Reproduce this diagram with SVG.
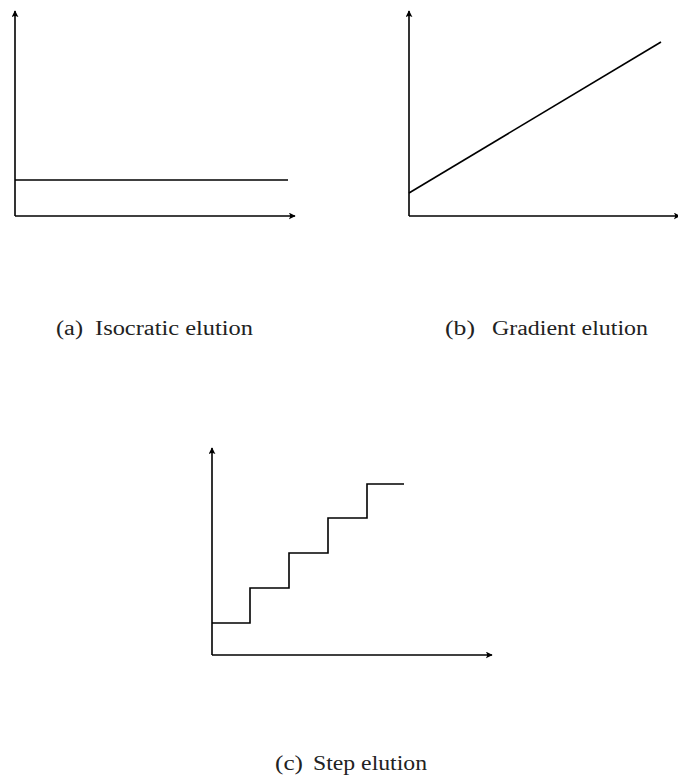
<svg xmlns="http://www.w3.org/2000/svg" width="678" height="775" viewBox="0 0 678 775">
<style>
.ax{fill:none;stroke:#000;stroke-width:1.6;marker-end:url(#ah)}
.cv{fill:none;stroke:#000;stroke-width:1.6;stroke-linejoin:miter}
.lb{font-family:"Liberation Serif","DejaVu Serif",serif;font-size:20px;fill:#222}
</style>
<defs>
<marker id="ah" viewBox="0 0 10 10" refX="9" refY="5" markerWidth="7" markerHeight="7" orient="auto" markerUnits="userSpaceOnUse">
<path d="M0,0 Q4,5 0,10 L10,5 Z" fill="#000"/>
</marker>
</defs>
<g id="connectors">
<path class="ax" d="M15,216 V11"/>
<path class="ax" d="M15,216 H295"/>
<path class="ax" d="M409,216 V11"/>
<path class="ax" d="M409,216 H680"/>
<path class="ax" d="M212,655 V448"/>
<path class="ax" d="M212,655 H492"/>
</g>
<g id="curve-a"><path class="cv" d="M15,180 H288"/></g>
<g id="curve-b"><path class="cv" d="M409,193 L661,42"/></g>
<g id="curve-c"><path class="cv" d="M212,623 H250 V588 H289 V553 H328 V518 H367 V484 H404"/></g>
<g id="label-a"><text class="lb" y="335"><tspan x="56" textLength="27" lengthAdjust="spacingAndGlyphs">(a)</tspan><tspan x="95" textLength="158" lengthAdjust="spacingAndGlyphs">Isocratic elution</tspan></text></g>
<g id="label-b"><text class="lb" y="335"><tspan x="445" textLength="30" lengthAdjust="spacingAndGlyphs">(b)</tspan><tspan x="492" textLength="156" lengthAdjust="spacingAndGlyphs">Gradient elution</tspan></text></g>
<g id="label-c"><text class="lb" y="770"><tspan x="275" textLength="28" lengthAdjust="spacingAndGlyphs">(c)</tspan><tspan x="313" textLength="114" lengthAdjust="spacingAndGlyphs">Step elution</tspan></text></g>
</svg>
